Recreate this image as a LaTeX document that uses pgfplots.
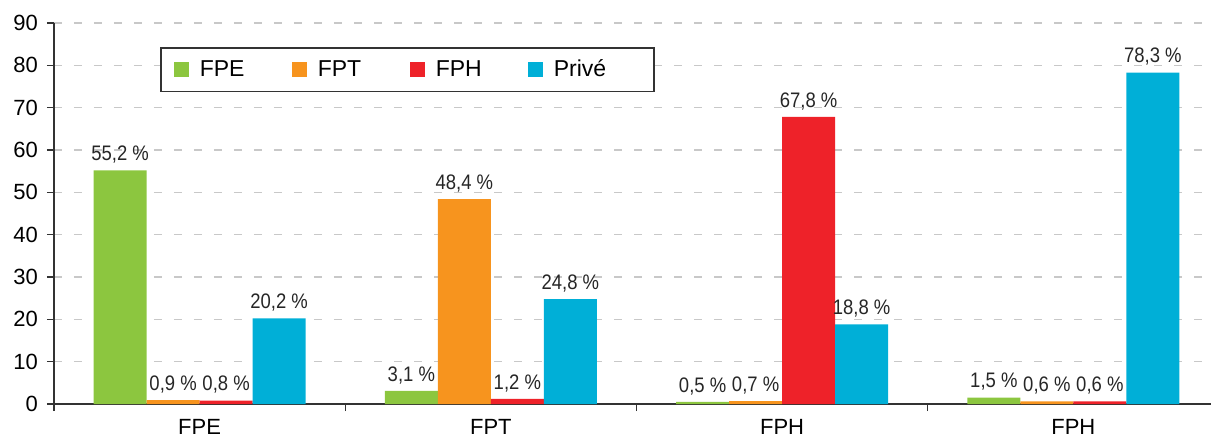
\documentclass[border=0pt]{standalone}
\usepackage{pgfplots}
\pgfplotsset{compat=1.18}
\usepackage{fontspec}
\setmainfont{Liberation Sans}

\definecolor{cFPE}{HTML}{8CC63F}
\definecolor{cFPT}{HTML}{F7941E}
\definecolor{cFPH}{HTML}{EE2229}
\definecolor{cPRIVE}{HTML}{00AFD7}
\definecolor{gridgray}{HTML}{C8C8C8}
\definecolor{axisgray}{HTML}{333333}

\begin{document}
\begin{tikzpicture}
\useasboundingbox (-27pt,-18.5pt) rectangle (578.5pt,202pt);
\begin{axis}[
  at={(0,0)}, anchor=south west,
  scale only axis,
  width=582.5pt, height=190.5pt,
  xmin=0, xmax=4, ymin=0, ymax=90,
  axis x line*=bottom, axis y line*=left,
  axis line style={axisgray, line width=0.7pt},
  tick style={axisgray, line width=0.7pt},
  tick align=outside,
  major tick length=3.5pt,
  ytick={0,10,...,90},
  xtick={0,1,2,3,4},
  xticklabels={},
  extra x ticks={0.5,1.5,2.5,3.5},
  extra x tick labels={FPE,FPT,FPH,FPH},
  extra x tick style={major tick length=0pt, grid=none,
    xticklabel style={yshift=-4pt}},
  ymajorgrids,
  grid style={gridgray, line width=0.75pt, dash pattern=on 4pt off 6pt},
  ticklabel style={font=\fontsize{11}{12}\selectfont},
  /pgf/number format/assume math mode=true,
  yticklabel style={xshift=-1pt},
  ybar, bar shift=0pt, bar width=0.182,
  nodes near coords={\scalebox{0.88}[1]{\pgfmathprintnumber{\pgfplotspointmeta}~\%}},
  nodes near coords style={font=\fontsize{10.5}{12}\selectfont, text=black!85,
    /pgf/number format/.cd, fixed, fixed zerofill, precision=1, use comma},
  legend columns=4,
  legend style={at={(0.091,0.937)}, anchor=north west,
    draw=axisgray, line width=0.75pt,
    inner xsep=6.75pt, inner ysep=4pt,
    nodes={inner xsep=2.25pt, inner ysep=2pt, anchor=west},
    font=\fontsize{11.5}{12}\selectfont,
    /tikz/every even column/.style={column sep=0pt}},
  legend image code/.code={
    \fill[#1, draw=none] (0pt,-3.75pt) rectangle (7.5pt,3.75pt);},
]
\addplot[fill=cFPE, draw=none] coordinates {
  (0.227,55.2) (1.227,3.1) (2.227,0.5) (3.227,1.5)};
\addlegendentry{\makebox[47pt][l]{\hspace{3pt}FPE}}
\addplot[fill=cFPT, draw=none] coordinates {
  (0.409,0.9) (1.409,48.4) (2.409,0.7) (3.409,0.6)};
\addlegendentry{\makebox[47pt][l]{\hspace{3pt}FPT}}
\addplot[fill=cFPH, draw=none] coordinates {
  (0.591,0.8) (1.591,1.2) (2.591,67.8) (3.591,0.6)};
\addlegendentry{\makebox[47pt][l]{\hspace{3pt}FPH}}
\addplot[fill=cPRIVE, draw=none] coordinates {
  (0.773,20.2) (1.773,24.8) (2.773,18.8) (3.773,78.3)};
\addlegendentry{\makebox[44pt][l]{\hspace{3pt}Privé}}
\end{axis}
\end{tikzpicture}
\end{document}
